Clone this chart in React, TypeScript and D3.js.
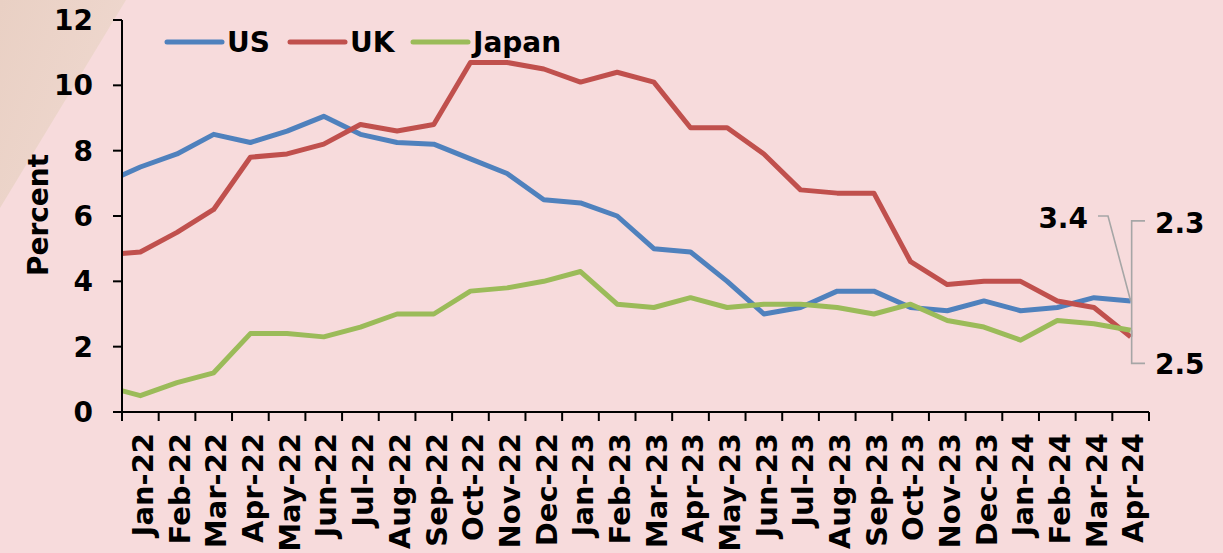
import React from "react";
import * as d3 from "d3";

// Months (Dec-21 is plotted just outside the axis and clipped)
const months = [
  "Jan-22","Feb-22","Mar-22","Apr-22","May-22","Jun-22","Jul-22","Aug-22","Sep-22","Oct-22","Nov-22","Dec-22",
  "Jan-23","Feb-23","Mar-23","Apr-23","May-23","Jun-23","Jul-23","Aug-23","Sep-23","Oct-23","Nov-23","Dec-23",
  "Jan-24","Feb-24","Mar-24","Apr-24",
];
// value for Dec-21 (clipped lead-in point)
const leadIn = { US: 7.0, UK: 4.8, Japan: 0.8 };
const usValues = [7.5,7.9,8.5,8.25,8.6,9.05,8.5,8.25,8.2,7.75,7.3,6.5,6.4,6.0,5.0,4.9,4.0,3.0,3.2,3.7,3.7,3.2,3.1,3.4,3.1,3.2,3.5,3.4];
const ukValues = [4.9,5.5,6.2,7.8,7.9,8.2,8.8,8.6,8.8,10.7,10.7,10.5,10.1,10.4,10.1,8.7,8.7,7.9,6.8,6.7,6.7,4.6,3.9,4.0,4.0,3.4,3.2,2.3];
const japanValues = [0.5,0.9,1.2,2.4,2.4,2.3,2.6,3.0,3.0,3.7,3.8,4.0,4.3,3.3,3.2,3.5,3.2,3.3,3.3,3.2,3.0,3.3,2.8,2.6,2.2,2.8,2.7,2.5];
const yTicks = [0, 2, 4, 6, 8, 10, 12];
const seriesNames = ["US", "UK", "Japan"];

const COLORS: Record<string, string> = { US: "#4f81bd", UK: "#c0504d", Japan: "#9bbb59" };
const FONT = "'DejaVu Sans', Verdana, sans-serif";

export default function App() {
  const W = 1223, H = 553;
  const left = 122, right = 1149, top = 20, bottom = 412;
  const x = d3.scaleLinear().domain([-0.5, months.length - 0.5]).range([left, right]);
  const y = d3.scaleLinear().domain([0, 12]).range([bottom, top]);

  const data: Record<string, number[]> = {
    US: [leadIn.US, ...usValues],
    UK: [leadIn.UK, ...ukValues],
    Japan: [leadIn.Japan, ...japanValues],
  };
  const line = d3
    .line<number>()
    .x((_, i) => x(i - 1))
    .y((d) => y(d));

  const lastIdx = months.length - 1;
  const ex = x(lastIdx);
  const usEnd = y(usValues[lastIdx]);
  const ukEnd = y(ukValues[lastIdx]);
  const jpEnd = y(japanValues[lastIdx]);

  const legendItems = [
    { name: "US", x0: 167 },
    { name: "UK", x0: 290 },
    { name: "Japan", x0: 413 },
  ];

  return (
    <svg width={W} height={H} style={{ display: "block", position: "absolute", left: 0, top: 0 }} fontFamily={FONT}>
      <defs>
        <clipPath id="plotClip">
          <rect x={left} y={0} width={W - left} height={H} />
        </clipPath>
        <linearGradient id="edge" x1="0" y1="0" x2="1" y2="0.6">
          <stop offset="0" stopColor="#e9d0c4" />
          <stop offset="1" stopColor="#efd8cf" />
        </linearGradient>
      </defs>
      <rect x={0} y={0} width={W} height={H} fill="#f7dbdc" />
      <polygon points="0,0 126,0 0,208" fill="url(#edge)" />

      {/* series lines */}
      <g clipPath="url(#plotClip)">
        {seriesNames.map((s) => (
          <path key={s} d={line(data[s]) || ""} fill="none" stroke={COLORS[s]} strokeWidth={5} strokeLinejoin="round" />
        ))}
      </g>

      {/* y axis */}
      <line x1={left} x2={left} y1={top} y2={bottom} stroke="#000" strokeWidth={2} />
      {yTicks.map((t) => (
        <g key={t}>
          <line x1={left - 9} x2={left} y1={y(t)} y2={y(t)} stroke="#000" strokeWidth={2} />
          <text x={93} y={y(t)} dy="0.36em" textAnchor="end" fontSize={28} fontWeight="bold" fill="#000">
            {t}
          </text>
        </g>
      ))}
      <text transform={`translate(48,215) rotate(-90)`} textAnchor="middle" fontSize={28} fontWeight="bold" fill="#000">
        Percent
      </text>

      {/* x axis */}
      <line x1={left} x2={right} y1={bottom} y2={bottom} stroke="#000" strokeWidth={2} />
      {d3.range(months.length + 1).map((i) => (
        <line key={i} x1={x(i - 0.5)} x2={x(i - 0.5)} y1={bottom} y2={bottom + 9} stroke="#000" strokeWidth={2} />
      ))}
      {months.map((m, i) => (
        <text
          key={m}
          transform={`translate(${x(i)},433) rotate(-90)`}
          dy="0.44em"
          textAnchor="end"
          fontSize={29}
          fontWeight="bold"
          fill="#000"
        >
          {m}
        </text>
      ))}

      {/* legend */}
      {legendItems.map((it) => (
        <g key={it.name}>
          <line x1={it.x0} x2={it.x0 + 55} y1={42} y2={42} stroke={COLORS[it.name]} strokeWidth={5} strokeLinecap="round" />
          <text x={it.x0 + 60} y={52} fontSize={28} fontWeight="bold" fill="#000">
            {it.name}
          </text>
        </g>
      ))}

      {/* end-value labels with leader lines */}
      <polyline points={`1098,${usEnd - 85} 1108,${usEnd - 85} ${ex},${usEnd}`} fill="none" stroke="#a6a6a6" strokeWidth={1.6} />
      <text x={1088} y={usEnd - 73} textAnchor="end" fontSize={28} fontWeight="bold" fill="#000">
        {usValues[lastIdx].toFixed(1)}
      </text>
      <polyline points={`1145,${ukEnd - 116} ${ex + 1},${ukEnd - 116} ${ex + 1},${ukEnd}`} fill="none" stroke="#a6a6a6" strokeWidth={1.6} />
      <text x={1155} y={ukEnd - 104} fontSize={28} fontWeight="bold" fill="#000">
        {ukValues[lastIdx].toFixed(1)}
      </text>
      <polyline points={`1145,${jpEnd + 33} ${ex + 1},${jpEnd + 33} ${ex + 1},${jpEnd}`} fill="none" stroke="#a6a6a6" strokeWidth={1.6} />
      <text x={1155} y={jpEnd + 44} fontSize={28} fontWeight="bold" fill="#000">
        {japanValues[lastIdx].toFixed(1)}
      </text>
    </svg>
  );
}
